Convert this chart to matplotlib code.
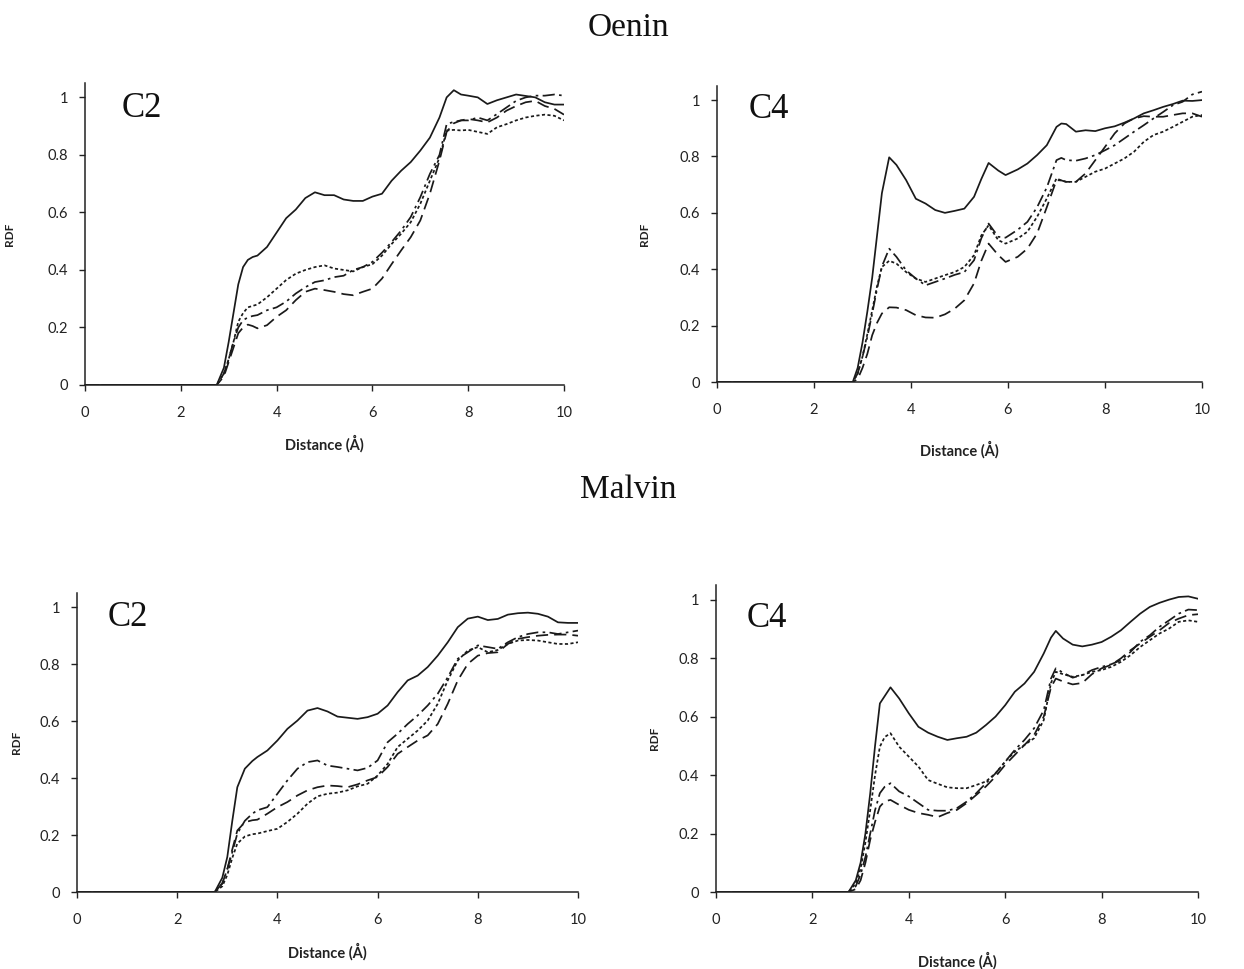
import matplotlib
matplotlib.use("Agg")
import matplotlib.pyplot as plt

# ---------------- data ----------------
x_oenin_c2 = [0, 2.75, 2.9, 3.0, 3.1, 3.2, 3.3, 3.4, 3.5, 3.6, 3.8, 4.0, 4.2, 4.4, 4.6, 4.8, 5.0, 5.2, 5.4, 5.6,
              5.8, 6.0, 6.2, 6.4, 6.6, 6.8, 7.0, 7.2, 7.4, 7.55, 7.7, 7.85, 8.0, 8.2, 8.4, 8.6, 8.8, 9.0, 9.2, 9.4,
              9.6, 9.8, 10.0]
oenin_c2_solid = [0, 0, 0.06, 0.15, 0.25, 0.35, 0.41, 0.435, 0.445, 0.45, 0.48, 0.53, 0.58, 0.61, 0.65, 0.67, 0.66,
                  0.66, 0.645, 0.64, 0.64, 0.655, 0.665, 0.71, 0.745, 0.775, 0.815, 0.86, 0.93, 1.0, 1.025, 1.01,
                  1.006, 1.0, 0.977, 0.99, 1.0, 1.01, 1.005, 1.0, 0.983, 0.975, 0.975]
oenin_c2_dotted = [0, 0, 0.04, 0.09, 0.15, 0.22, 0.25, 0.27, 0.275, 0.28, 0.305, 0.335, 0.365, 0.387, 0.40, 0.41,
                   0.416, 0.405, 0.40, 0.395, 0.41, 0.42, 0.45, 0.49, 0.526, 0.566, 0.63, 0.71, 0.79, 0.885, 0.887,
                   0.885, 0.887, 0.88, 0.873, 0.896, 0.907, 0.92, 0.93, 0.936, 0.94, 0.936, 0.92]
oenin_c2_dashdot = [0, 0, 0.04, 0.09, 0.15, 0.2, 0.225, 0.235, 0.24, 0.243, 0.26, 0.27, 0.29, 0.318, 0.34, 0.358,
                    0.364, 0.375, 0.38, 0.40, 0.41, 0.428, 0.46, 0.497, 0.537, 0.584, 0.653, 0.734, 0.80, 0.907,
                    0.915, 0.92, 0.92, 0.93, 0.92, 0.942, 0.965, 0.988, 1.0, 1.006, 1.006, 1.01, 1.006]
oenin_c2_dashed = [0, 0, 0.03, 0.08, 0.13, 0.18, 0.2, 0.21, 0.205, 0.197, 0.208, 0.237, 0.26, 0.295, 0.324, 0.335,
                   0.33, 0.324, 0.316, 0.312, 0.324, 0.335, 0.37, 0.42, 0.468, 0.514, 0.572, 0.665, 0.78, 0.88, 0.91,
                   0.92, 0.925, 0.92, 0.913, 0.93, 0.954, 0.97, 0.983, 0.988, 0.97, 0.96, 0.94]

x_oenin_c4 = [0, 2.8, 2.9, 3.0, 3.1, 3.2, 3.3, 3.4, 3.55, 3.7, 3.9, 4.1, 4.3, 4.5, 4.7, 4.9, 5.1, 5.3, 5.45, 5.6,
              5.8, 5.95, 6.2, 6.4, 6.6, 6.8, 7.0, 7.1, 7.2, 7.4, 7.6, 7.8, 8.0, 8.2, 8.4, 8.6, 8.8, 9.0, 9.2, 9.4,
              9.6, 9.8, 10.0]
oenin_c4_solid = [0, 0, 0.05, 0.14, 0.25, 0.37, 0.52, 0.67, 0.797, 0.77, 0.716, 0.65, 0.633, 0.61, 0.60, 0.607,
                  0.615, 0.657, 0.72, 0.777, 0.75, 0.734, 0.754, 0.775, 0.805, 0.84, 0.905, 0.917, 0.915, 0.888,
                  0.893, 0.89, 0.90, 0.907, 0.92, 0.935, 0.953, 0.964, 0.976, 0.986, 0.998, 0.997, 1.0]
oenin_c4_dashdot = [0, 0, 0.03, 0.09, 0.16, 0.243, 0.33, 0.41, 0.473, 0.444, 0.396, 0.367, 0.343, 0.355, 0.367,
                    0.38, 0.39, 0.432, 0.51, 0.562, 0.515, 0.512, 0.54, 0.568, 0.62, 0.69, 0.787, 0.795, 0.787,
                    0.785, 0.793, 0.805, 0.822, 0.84, 0.864, 0.888, 0.911, 0.935, 0.958, 0.982, 0.994, 1.02, 1.03]
oenin_c4_dotted = [0, 0, 0.03, 0.09, 0.17, 0.254, 0.34, 0.408, 0.43, 0.42, 0.39, 0.367, 0.355, 0.367, 0.379, 0.39,
                   0.408, 0.45, 0.52, 0.556, 0.503, 0.491, 0.509, 0.533, 0.586, 0.651, 0.722, 0.715, 0.71, 0.71,
                   0.728, 0.746, 0.757, 0.775, 0.793, 0.817, 0.852, 0.876, 0.888, 0.905, 0.923, 0.941, 0.947]
oenin_c4_dashed = [0, 0, 0.01, 0.05, 0.1, 0.166, 0.21, 0.243, 0.265, 0.264, 0.255, 0.237, 0.229, 0.228, 0.24, 0.26,
                   0.29, 0.35, 0.43, 0.491, 0.45, 0.426, 0.444, 0.473, 0.527, 0.62, 0.716, 0.715, 0.71, 0.71, 0.74,
                   0.787, 0.834, 0.882, 0.917, 0.935, 0.943, 0.941, 0.941, 0.947, 0.953, 0.953, 0.941]

x_malvin_c2 = [0, 2.75, 2.9, 3.0, 3.1, 3.2, 3.35, 3.5, 3.6, 3.8, 4.0, 4.2, 4.4, 4.6, 4.8, 5.0, 5.2, 5.4, 5.6, 5.8,
               6.0, 6.2, 6.4, 6.6, 6.8, 7.0, 7.2, 7.4, 7.6, 7.8, 8.0, 8.2, 8.4, 8.6, 8.8, 9.0, 9.2, 9.4, 9.6, 9.8,
               10.0]
malvin_c2_solid = [0, 0, 0.05, 0.123, 0.25, 0.368, 0.433, 0.46, 0.474, 0.497, 0.532, 0.573, 0.602, 0.637, 0.646,
                   0.634, 0.616, 0.612, 0.608, 0.614, 0.626, 0.655, 0.702, 0.743, 0.76, 0.79, 0.83, 0.877, 0.93,
                   0.96, 0.967, 0.955, 0.959, 0.974, 0.979, 0.981, 0.977, 0.967, 0.947, 0.945, 0.945]
malvin_c2_dashdot = [0, 0, 0.03, 0.08, 0.14, 0.205, 0.25, 0.275, 0.287, 0.298, 0.345, 0.392, 0.433, 0.456, 0.462,
                     0.444, 0.439, 0.433, 0.427, 0.436, 0.462, 0.526, 0.556, 0.59, 0.62, 0.655, 0.696, 0.754, 0.819,
                     0.842, 0.866, 0.86, 0.854, 0.877, 0.895, 0.906, 0.912, 0.912, 0.906, 0.912, 0.918]
malvin_c2_dashed = [0, 0, 0.03, 0.08, 0.15, 0.216, 0.245, 0.252, 0.254, 0.275, 0.298, 0.316, 0.339, 0.357, 0.368,
                    0.374, 0.372, 0.368, 0.378, 0.392, 0.404, 0.439, 0.485, 0.509, 0.532, 0.55, 0.59, 0.661, 0.743,
                    0.801, 0.83, 0.839, 0.842, 0.871, 0.889, 0.895, 0.9, 0.903, 0.904, 0.904, 0.9]
malvin_c2_dotted = [0, 0, 0.02, 0.06, 0.12, 0.17, 0.195, 0.203, 0.205, 0.214, 0.222, 0.246, 0.275, 0.31, 0.336,
                    0.345, 0.349, 0.357, 0.371, 0.38, 0.409, 0.45, 0.509, 0.538, 0.567, 0.602, 0.661, 0.743, 0.813,
                    0.848, 0.86, 0.842, 0.85, 0.871, 0.883, 0.885, 0.883, 0.877, 0.871, 0.871, 0.877]

x_malvin_c4 = [0, 2.75, 2.9, 3.0, 3.1, 3.2, 3.3, 3.4, 3.5, 3.62, 3.8, 4.0, 4.2, 4.4, 4.6, 4.8, 5.0, 5.2, 5.4, 5.6,
               5.8, 6.0, 6.2, 6.4, 6.6, 6.8, 6.95, 7.05, 7.2, 7.4, 7.6, 7.8, 8.0, 8.2, 8.4, 8.6, 8.8, 9.0, 9.2, 9.4,
               9.6, 9.8, 10.0]
malvin_c4_solid = [0, 0, 0.04, 0.1, 0.2, 0.338, 0.5, 0.645, 0.67, 0.70, 0.662, 0.611, 0.565, 0.545, 0.531, 0.52,
                   0.526, 0.531, 0.545, 0.571, 0.60, 0.639, 0.685, 0.713, 0.753, 0.816, 0.87, 0.893, 0.867, 0.846,
                   0.84, 0.846, 0.855, 0.873, 0.895, 0.924, 0.952, 0.975, 0.989, 1.0, 1.009, 1.011, 1.003]
malvin_c4_dotted = [0, 0, 0.03, 0.08, 0.17, 0.281, 0.4, 0.497, 0.53, 0.543, 0.497, 0.463, 0.429, 0.383, 0.37, 0.358,
                    0.355, 0.355, 0.366, 0.378, 0.406, 0.446, 0.48, 0.503, 0.526, 0.588, 0.715, 0.753, 0.745, 0.736,
                    0.742, 0.753, 0.759, 0.77, 0.787, 0.81, 0.838, 0.861, 0.884, 0.901, 0.924, 0.929, 0.924]
malvin_c4_dashdot = [0, 0, 0.02, 0.06, 0.12, 0.2, 0.28, 0.338, 0.36, 0.372, 0.344, 0.327, 0.304, 0.281, 0.278,
                     0.278, 0.287, 0.309, 0.338, 0.372, 0.406, 0.446, 0.486, 0.52, 0.56, 0.622, 0.73, 0.765, 0.75,
                     0.733, 0.742, 0.759, 0.77, 0.779, 0.793, 0.821, 0.856, 0.878, 0.907, 0.929, 0.952, 0.966, 0.964]
malvin_c4_dashed = [0, 0, 0.01, 0.04, 0.1, 0.179, 0.24, 0.292, 0.31, 0.315, 0.298, 0.281, 0.27, 0.264, 0.256, 0.27,
                    0.281, 0.304, 0.332, 0.361, 0.395, 0.435, 0.469, 0.503, 0.537, 0.60, 0.70, 0.73, 0.72, 0.71,
                    0.715, 0.745, 0.765, 0.777, 0.799, 0.827, 0.85, 0.873, 0.895, 0.92, 0.935, 0.947, 0.95]

panel_labels = ["C2", "C4", "C2", "C4"]
group_titles = ["Oenin", "Malvin"]
x_ticks = [0, 2, 4, 6, 8, 10]
y_ticks = [0, 0.2, 0.4, 0.6, 0.8, 1.0]
y_tick_labels = ["0", "0.2", "0.4", "0.6", "0.8", "1"]
x_label = "Distance (Å)"
y_label = "RDF"

# ---------------- styles ----------------
STY = {
    "solid": dict(linestyle="-"),
    "dashed": dict(linestyle=(0, (7, 3.5))),
    "dotted": dict(linestyle=(0, (1.8, 1.4))),
    "dashdot": dict(linestyle=(0, (7, 2.5, 1.5, 2.5))),
}

W, H = 1244, 969
fig = plt.figure(figsize=(W / 100, H / 100), dpi=100)


def px_axes(left, right, top, bottom):
    return fig.add_axes([left / W, (H - bottom) / H, (right - left) / W, (bottom - top) / H])


panels = [
    # axes box px (left, right, top, bottom), x, series, ylabel offset, xlabel offset, panel-label pos
    ((85, 564, 83, 385), x_oenin_c2,
     [("solid", oenin_c2_solid), ("dotted", oenin_c2_dotted), ("dashdot", oenin_c2_dashdot),
      ("dashed", oenin_c2_dashed)], 70, 58, (0.77, 0.96)),
    ((717, 1202, 86, 382), x_oenin_c4,
     [("solid", oenin_c4_solid), ("dotted", oenin_c4_dotted), ("dashdot", oenin_c4_dashdot),
      ("dashed", oenin_c4_dashed)], 67, 67, (0.66, 0.965)),
    ((77, 578, 593, 892), x_malvin_c2,
     [("solid", malvin_c2_solid), ("dotted", malvin_c2_dotted), ("dashdot", malvin_c2_dashdot),
      ("dashed", malvin_c2_dashed)], 55, 59, (0.62, 0.965)),
    ((716, 1198, 585, 892), x_malvin_c4,
     [("solid", malvin_c4_solid), ("dotted", malvin_c4_dotted), ("dashdot", malvin_c4_dashdot),
      ("dashed", malvin_c4_dashed)], 56, 68, (0.64, 0.935)),
]

tick_font = "Lato"
for i, (box, xs, series, ylab_off, xlab_off, lab_pos) in enumerate(panels):
    l, r, t, b = box
    ax = px_axes(l, r, t, b)
    for name, ys in series:
        ax.plot(xs, ys, color="#1a1a1a", lw=1.25, **STY[name])
    ax.set_xlim(0, 10)
    ax.set_ylim(0, 1.05)
    ax.set_xticks(x_ticks)
    ax.set_xticklabels([str(v) for v in x_ticks], fontfamily=tick_font, fontsize=10.5, color="#222222")
    ax.set_yticks(y_ticks)
    ax.set_yticklabels(y_tick_labels, fontfamily=tick_font, fontsize=10.5, color="#222222")
    ax.tick_params(axis="x", direction="out", length=4, width=1, pad=11, color="#222222")
    ax.tick_params(axis="y", direction="out", length=4, width=1, pad=8, color="#222222")
    for s in ["top", "right"]:
        ax.spines[s].set_visible(False)
    for s in ["left", "bottom"]:
        ax.spines[s].set_linewidth(1.1)
        ax.spines[s].set_color("#222222")
    wpx, hpx = r - l, b - t
    ax.set_xlabel(x_label, fontfamily=tick_font, fontweight="bold", fontsize=10.5, color="#222222")
    ax.xaxis.set_label_coords(0.5, -(xlab_off - 8) / hpx)
    ax.set_ylabel(y_label, fontfamily=tick_font, fontweight="bold", fontsize=8.5, color="#222222")
    ax.yaxis.set_label_coords(-ylab_off / wpx, 0.5)
    ax.text(lab_pos[0], lab_pos[1], panel_labels[i], fontfamily="Liberation Serif", fontsize=25,
            ha="left", va="center", transform=ax.transData, color="#111111")

fig.text(628 / W, 1 - 28 / H, group_titles[0], fontfamily="Liberation Serif", fontsize=24,
         ha="center", va="center", color="#111111")
fig.text(628 / W, 1 - 490 / H, group_titles[1], fontfamily="Liberation Serif", fontsize=24,
         ha="center", va="center", color="#111111")

fig.savefig("out.png", dpi=100, facecolor="white")
